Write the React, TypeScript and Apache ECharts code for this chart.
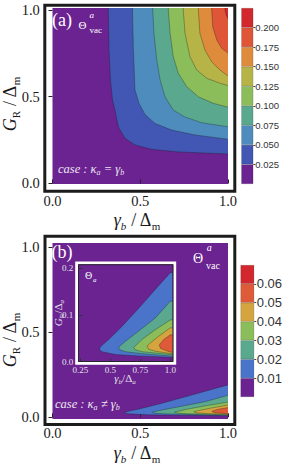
import React, { useEffect, useRef } from "react";
import * as echarts from "echarts";

const SERIF = '"Liberation Serif", "DejaVu Serif", serif';
const SANS = '"Liberation Sans", Arial, sans-serif';
const PURPLE = "#6a2390";

// ---- data ----
const levelsA = [0, 0.025, 0.05, 0.075, 0.1, 0.125, 0.15, 0.175, 0.2, 0.225];
const colorsA = ["#6a2390", "#4157b3", "#4e8cbe", "#5aa98e", "#8cbd5b", "#b6b447", "#de8c3c", "#df5537", "#d2282d"];
const levelsB = [0, 0.01, 0.02, 0.03, 0.04, 0.05, 0.06, 0.07];
const colorsB = ["#6a2390", "#4a74c9", "#5aa98e", "#8cbd5b", "#d4a43e", "#df5a38", "#d2282d"];

const ticksMain = [0, 0.5, 1];
const xTicksInset = [0.25, 0.5, 0.75, 1];
const yTicksInset = [0, 0.1, 0.2];

// panel (a): contour boundaries (value = levelsA[k+1]), from top edge to right edge
const contA1 = [[0.318, 1], [0.322, 0.769], [0.33, 0.597], [0.342, 0.481], [0.356, 0.424], [0.375, 0.327], [0.413, 0.261], [0.47, 0.222], [0.565, 0.197], [0.717, 0.182], [1.0, 0.17]];
const contA2 = [[0.456, 1], [0.461, 0.769], [0.47, 0.539], [0.492, 0.464], [0.527, 0.398], [0.584, 0.346], [0.679, 0.308], [0.812, 0.28], [1.0, 0.255]];
const contA3 = [[0.571, 1], [0.578, 0.866], [0.594, 0.712], [0.613, 0.597], [0.641, 0.5], [0.688, 0.424], [0.75, 0.385], [0.85, 0.35], [1.0, 0.327]];
const contA4 = [[0.66, 1], [0.67, 0.866], [0.688, 0.731], [0.717, 0.635], [0.765, 0.558], [0.831, 0.5], [0.916, 0.462], [1.0, 0.44]];
const contA5 = [[0.745, 1], [0.755, 0.866], [0.783, 0.731], [0.822, 0.654], [0.879, 0.606], [0.954, 0.578], [1.0, 0.565]];
const contA6 = [[0.831, 1], [0.84, 0.866], [0.869, 0.769], [0.907, 0.702], [0.954, 0.654], [1.0, 0.62]];
const contA7 = [[0.907, 1], [0.913, 0.904], [0.936, 0.827], [0.964, 0.779], [1.0, 0.752]];
const contA8 = [[0.983, 1], [0.99, 0.97], [1.0, 0.95]];
const contoursA = [contA1, contA2, contA3, contA4, contA5, contA6, contA7, contA8];

// panel (b) and inset: wedge boundaries (value = levelsB[k+1]), from right edge (upper) round the tip to right edge (lower)
const contB1 = [[1.0, 0.19], [0.875, 0.154], [0.737, 0.114], [0.597, 0.075], [0.487, 0.047], [0.431, 0.035], [0.41, 0.028], [0.415, 0.024], [0.431, 0.021], [0.542, 0.015], [0.737, 0.012], [1.0, 0.009]];
const contB2 = [[1.0, 0.129], [0.875, 0.093], [0.737, 0.065], [0.625, 0.043], [0.585, 0.034], [0.57, 0.03], [0.58, 0.025], [0.625, 0.021], [0.79, 0.016], [1.0, 0.012]];
const contB3 = [[1.0, 0.089], [0.875, 0.068], [0.764, 0.047], [0.72, 0.036], [0.695, 0.03], [0.71, 0.025], [0.764, 0.021], [1.0, 0.015]];
const contB4 = [[1.0, 0.072], [0.903, 0.054], [0.835, 0.04], [0.806, 0.033], [0.82, 0.026], [0.875, 0.022], [1.0, 0.017]];
const contB5 = [[1.0, 0.057], [0.945, 0.047], [0.915, 0.038], [0.908, 0.035], [0.92, 0.028], [0.958, 0.024], [1.0, 0.02]];
const contoursB = [contB1, contB2, contB3, contB4, contB5];

function makeRender(curves: number[][][], colors: string[], mode: "corner" | "wedge") {
  return (params: any, api: any) => {
    const k = api.value(0);
    const cs = params.coordSys;
    const right = cs.x + cs.width;
    const top = cs.y;
    const pts = curves[k].map((p) => api.coord(p));
    const first = pts[0];
    const last = pts[pts.length - 1];
    let line: number[][];
    let poly: number[][];
    if (mode === "corner") {
      line = [[first[0], top], ...pts, [right, last[1]]];
      poly = [...line, [right, top]];
    } else {
      line = [[right, first[1]], ...pts, [right, last[1]]];
      poly = line;
    }
    return {
      type: "group",
      children: [
        { type: "polygon", z2: k * 2, shape: { points: poly }, style: { fill: colors[k + 1] } },
        { type: "polyline", z2: k * 2 + 1, shape: { points: line }, style: { stroke: "rgba(25,25,25,0.55)", lineWidth: 0.6, fill: null } },
      ],
    };
  };
}

const richStyles = (fs: number, color: string) => ({
  i: { fontFamily: SERIF, fontStyle: "italic", fontSize: fs, fill: color, lineHeight: fs + 4, verticalAlign: "middle" },
  n: { fontFamily: SERIF, fontSize: fs, fill: color, lineHeight: fs + 4, verticalAlign: "middle" },
  s: { fontFamily: SERIF, fontStyle: "italic", fontSize: Math.round(fs * 0.62), fill: color, lineHeight: Math.round(fs * 0.5), verticalAlign: "bottom" },
  r: { fontFamily: SERIF, fontSize: Math.round(fs * 0.62), fill: color, lineHeight: Math.round(fs * 0.5), verticalAlign: "bottom" },
});

function rtext(x: number, y: number, text: string, fs: number, color: string, align = "center", rotation = 0) {
  return {
    type: "text",
    x,
    y,
    rotation,
    z: 100,
    style: { text, rich: richStyles(fs, color), align, verticalAlign: "middle", textAlign: align, textVerticalAlign: "middle" },
  };
}

function ptext(x: number, y: number, text: string, fs: number, color: string, italic = false, family = SERIF) {
  return {
    type: "text",
    x,
    y,
    z: 100,
    style: {
      text,
      fill: color,
      fontSize: fs,
      fontFamily: family,
      fontStyle: italic ? "italic" : "normal",
      align: "left",
      verticalAlign: "middle",
      textAlign: "left",
      textVerticalAlign: "middle",
    },
  };
}

function mainXAxis(gridIndex: number, offset: number, margin: number) {
  return {
    type: "value", gridIndex, min: 0, max: 1, offset, position: "bottom",
    axisLine: { show: false },
    axisTick: { show: true, inside: true, length: 4, lineStyle: { color: "#222", width: 1 }, customValues: ticksMain },
    axisLabel: { customValues: ticksMain, margin, fontFamily: SERIF, fontSize: 14.5, color: "#1a1a1a", formatter: (v: number) => v.toFixed(1) },
    splitLine: { show: false },
  };
}
function mainYAxis(gridIndex: number, min: number, max: number, offset: number, margin: number) {
  return {
    type: "value", gridIndex, min, max, offset, position: "left",
    axisLine: { show: false },
    axisTick: { show: true, inside: false, length: 4, lineStyle: { color: "#222", width: 1 }, customValues: ticksMain },
    axisLabel: { customValues: ticksMain, margin, fontFamily: SERIF, fontSize: 14.5, color: "#1a1a1a", formatter: (v: number) => v.toFixed(1) },
    splitLine: { show: false },
  };
}

export default function App() {
  const ref = useRef<HTMLDivElement>(null);
  useEffect(() => {
    if (!ref.current) return;
    const chart = echarts.init(ref.current, undefined, { renderer: "svg" });
    const barsA = colorsA.map((c, k) => ({
      type: "bar", xAxisIndex: 3, yAxisIndex: 3, stack: "cbA", barWidth: "100%",
      data: [levelsA[k + 1] - levelsA[k]],
      itemStyle: { color: c, borderColor: "rgba(0,0,0,0.3)", borderWidth: 0.5 },
    }));
    const barsB = colorsB.map((c, k) => ({
      type: "bar", xAxisIndex: 4, yAxisIndex: 4, stack: "cbB", barWidth: "100%",
      data: [levelsB[k + 1] - levelsB[k]],
      itemStyle: { color: c, borderColor: "rgba(0,0,0,0.3)", borderWidth: 0.5 },
    }));
    const option: any = {
      animation: false,
      backgroundColor: "#ffffff",
      grid: [
        { left: 52.5, top: 8, width: 175.5, height: 176, show: true, backgroundColor: PURPLE, borderWidth: 0 },
        { left: 52.5, top: 243, width: 175.5, height: 176, show: true, backgroundColor: PURPLE, borderWidth: 0 },
        { left: 79.3, top: 265.3, width: 93.4, height: 96.2, show: true, backgroundColor: PURPLE, borderWidth: 0 },
        { left: 241.3, top: 8, width: 12, height: 176 },
        { left: 240.5, top: 265, width: 15.5, height: 132 },
      ],
      xAxis: [
        mainXAxis(0, 7.3, 2),
        mainXAxis(1, 5.5, 1),
        {
          type: "value", gridIndex: 2, min: 0.2417, max: 1.02, position: "bottom",
          axisLine: { show: false },
          axisTick: { show: true, inside: true, length: 3, lineStyle: { color: "#333" }, customValues: xTicksInset },
          axisLabel: { customValues: xTicksInset, margin: 4, fontFamily: SERIF, fontSize: 9, color: "#e4e0ea", formatter: (v: number) => (v === 0.25 || v === 0.75 ? v.toFixed(2) : v.toFixed(1)) },
          splitLine: { show: false },
        },
        { type: "category", gridIndex: 3, data: ["a"], show: false },
        { type: "category", gridIndex: 4, data: ["b"], show: false },
      ],
      yAxis: [
        mainYAxis(0, -0.003, 1.0115, 7.7, 5),
        mainYAxis(1, -0.01, 1.022, 7.5, 5.5),
        {
          type: "value", gridIndex: 2, min: 0, max: 0.2058, position: "left",
          axisLine: { show: false },
          axisTick: { show: true, inside: true, length: 3, lineStyle: { color: "#333" }, customValues: yTicksInset },
          axisLabel: { customValues: yTicksInset, margin: 6, fontFamily: SERIF, fontSize: 9, color: "#e4e0ea", formatter: (v: number) => v.toFixed(1) },
          splitLine: { show: false },
        },
        {
          type: "value", gridIndex: 3, min: 0, max: 0.225, position: "right",
          axisLine: { show: false },
          axisTick: { show: true, length: 2, lineStyle: { color: "#444" }, customValues: levelsA.slice(1, -1) },
          axisLabel: { customValues: levelsA.slice(1, -1), margin: 2, fontFamily: SANS, fontSize: 9.5, color: "#333", formatter: (v: number) => v.toFixed(3) },
          splitLine: { show: false },
        },
        {
          type: "value", gridIndex: 4, min: 0, max: 0.07, position: "right",
          axisLine: { show: false },
          axisTick: { show: true, length: 2, lineStyle: { color: "#444" }, customValues: levelsB.slice(1, -1) },
          axisLabel: { customValues: levelsB.slice(1, -1), margin: 2.5, fontFamily: SANS, fontSize: 13, color: "#333", formatter: (v: number) => v.toFixed(2) },
          splitLine: { show: false },
        },
      ],
      series: [
        { type: "custom", xAxisIndex: 0, yAxisIndex: 0, clip: true, renderItem: makeRender(contoursA, colorsA, "corner"), data: contoursA.map((_, k) => [k, 0]) },
        { type: "custom", xAxisIndex: 1, yAxisIndex: 1, clip: true, renderItem: makeRender(contoursB, colorsB, "wedge"), data: contoursB.map((_, k) => [k, 0]) },
        { type: "custom", xAxisIndex: 2, yAxisIndex: 2, clip: true, z: 5, renderItem: makeRender(contoursB, colorsB, "wedge"), data: contoursB.map((_, k) => [k, 0]) },
        ...barsA,
        ...barsB,
      ],
      graphic: [
        // frames
        { type: "rect", z: 90, shape: { x: 44.8, y: 5.3, width: 190, height: 186 }, style: { fill: null, stroke: "#1c1c1c", lineWidth: 3 } },
        { type: "rect", z: 90, shape: { x: 45, y: 236.2, width: 189.8, height: 188.3 }, style: { fill: null, stroke: "#1c1c1c", lineWidth: 3 } },
        { type: "rect", z: 90, shape: { x: 76.6, y: 262.8, width: 98.2, height: 100.5 }, style: { fill: null, stroke: "#ffffff", lineWidth: 2.8 } },
        { type: "rect", z: 91, shape: { x: 78.5, y: 264.7, width: 94.4, height: 96.8 }, style: { fill: null, stroke: "#222", lineWidth: 0.9 } },
        // panel labels
        ptext(52, 20, "(a)", 18, "#ffffff"),
        ptext(78.5, 25, "Θ", 11, "#ffffff"),
        ptext(89.5, 15, "a", 9, "#ffffff", true),
        ptext(89.5, 29.5, "vac", 9, "#ffffff"),
        ptext(51.5, 251.5, "(b)", 18, "#ffffff"),
        ptext(193, 258.7, "Θ", 14, "#ffffff"),
        ptext(206.7, 247, "a", 10, "#ffffff", true),
        ptext(206, 265.5, "vac", 10, "#ffffff"),
        ptext(85, 275.5, "Θ", 10, "#ffffff"),
        ptext(93, 280, "a", 7, "#ffffff", true),
        rtext(58, 168.5, "{i|case : κ}{s|a}{i| = γ}{s|b}", 12.5, "#eee6f2", "left"),
        rtext(55, 403.5, "{i|case : κ}{s|a}{i| ≠ γ}{s|b}", 12.5, "#eee6f2", "left"),
        // axis titles
        rtext(137, 220, "{i|γ}{s|b}{n| / Δ}{r|m}", 18, "#1a1a1a"),
        rtext(137, 453, "{i|γ}{s|b}{n| / Δ}{r|m}", 18, "#1a1a1a"),
        rtext(10, 104, "{i|G}{r|R}{n| / Δ}{r|m}", 18, "#1a1a1a", "center", Math.PI / 2),
        rtext(10, 340, "{i|G}{r|R}{n| / Δ}{r|m}", 18, "#1a1a1a", "center", Math.PI / 2),
        rtext(125, 378, "{i|γ}{s|b}{n|/Δ}{s|a}", 11, "#e4e0ea"),
        rtext(58, 313, "{i|G}{r|R}{n|/Δ}{s|a}", 11, "#e4e0ea", "center", Math.PI / 2),
      ],
    };
    chart.setOption(option);
    return () => chart.dispose();
  }, []);
  return <div ref={ref} style={{ position: "fixed", left: 0, top: 0, width: 285, height: 467, background: "#fff" }} />;
}
